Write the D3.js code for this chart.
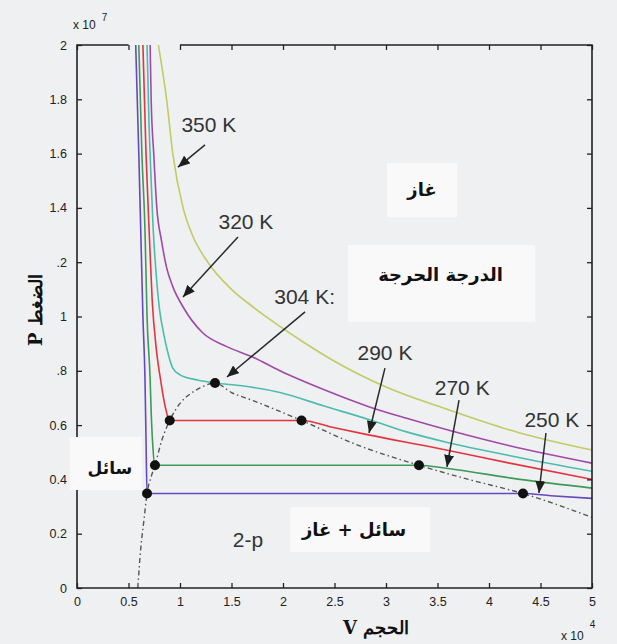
<!DOCTYPE html>
<html><head><meta charset="utf-8">
<script src="https://cdn.jsdelivr.net/npm/d3@7"></script>
<style>body{margin:0;background:#eef0f2}svg{display:block}</style>
</head><body><svg id="c" width="617" height="644"></svg>
<script>
// ---- data ----
const xTicks=[0,0.5,1,1.5,2,2.5,3,3.5,4,4.5,5];
const xTickLabels=["0","0.5","1","1.5","2","2.5","3","3.5","4","4.5","5"];
const yTicks=[0,0.2,0.4,0.6,0.8,1.0,1.2,1.4,1.6,1.8,2.0];
const yTickLabels=["0","0.2","0.4","0.6",".8","1",".2","1.4","1.6","1.8","2"];

const V350=[0.79,0.87,0.93,1.03,1.12,1.27,1.5,1.71,1.87,2.2,2.5,3.0,3.62,4.3,5.0];
const P350=[2.0,1.8,1.6,1.4,1.3,1.2,1.10,1.035,0.99,0.905,0.835,0.74,0.655,0.571,0.508];
const V320=[0.71,0.72,0.745,0.775,0.82,0.87,0.93,1.03,1.22,1.45,1.71,1.97,2.4,2.84,3.2,3.62,4.2,5.0];
const P320=[2.0,1.8,1.6,1.4,1.28,1.18,1.11,1.035,0.94,0.89,0.85,0.80,0.73,0.667,0.625,0.58,0.524,0.46];
const V304=[0.68,0.70,0.72,0.74,0.77,0.80,0.84,0.88,0.93,1.0,1.17,1.34,1.6,1.97,2.4,2.84,3.2,3.62,4.3,5.0];
const P304=[2.0,1.7,1.5,1.32,1.15,1.03,0.94,0.87,0.81,0.785,0.766,0.755,0.745,0.72,0.67,0.62,0.575,0.534,0.48,0.43];
const V290=[0.64,0.67,0.70,0.73,0.77,0.81,0.85,0.90,2.18,2.5,2.83,3.5,4.2,5.0];
const P290=[2.0,1.6,1.32,1.06,0.88,0.77,0.68,0.617,0.617,0.59,0.564,0.515,0.46,0.40];
const V270=[0.60,0.63,0.66,0.68,0.71,0.72,0.735,0.757,3.32,3.6,4.3,5.0];
const P270=[2.0,1.6,1.32,1.0,0.77,0.65,0.53,0.452,0.452,0.44,0.40,0.368];
const V250=[0.57,0.60,0.62,0.64,0.66,0.67,0.68,4.33,4.6,5.0];
const P250=[2.0,1.6,1.3,1.0,0.77,0.55,0.348,0.348,0.34,0.33];

const coexV=[0.59,0.62,0.65,0.68,0.72,0.757,0.82,0.90,1.0,1.1,1.2,1.34,1.5,1.71,2.18,2.7,3.32,3.8,4.33,5.0];
const coexP=[0.0,0.15,0.25,0.348,0.41,0.452,0.54,0.617,0.68,0.715,0.738,0.755,0.72,0.69,0.617,0.53,0.452,0.40,0.348,0.26];

const dotV=[0.68,0.757,0.90,1.34,2.18,3.32,4.33];
const dotP=[0.348,0.452,0.617,0.755,0.617,0.452,0.348];

const tempLabels=["350 K","320 K","304 K:","290 K","270 K","250 K"];
const labelV=[1.28,1.64,2.21,2.99,3.74,4.61];
const labelP=[1.705,1.348,1.072,0.866,0.737,0.619];
const arrowFromV=[1.243,1.563,2.214,2.99,3.709,4.553];
const arrowFromP=[1.632,1.293,1.017,0.81,0.692,0.571];
const arrowToV=[0.98,1.029,1.456,2.835,3.592,4.485];
const arrowToP=[1.55,1.072,0.777,0.571,0.446,0.35];

const regionText=["غاز","الدرجة الحرجة","سائل + غاز","سائل"];
const regionV=[3.35,3.53,2.69,0.32];
const regionP=[1.466,1.153,0.214,0.442];
const boxV0=[3.01,2.63,2.07,-0.07], boxV1=[3.69,4.45,3.43,0.63];
const boxP0=[1.565,1.263,0.298,0.556], boxP1=[1.366,0.98,0.133,0.361];

// ---- chart ----
const svg=d3.select("#c");
const x=d3.scaleLinear().domain([0,5]).range([77,592]);
const y=d3.scaleLinear().domain([0,2]).range([588,45]);

const series=[
 {V:V350,P:P350,c:"#c2cb64"},
 {V:V320,P:P320,c:"#a04aa8"},
 {V:V304,P:P304,c:"#4cbcae"},
 {V:V290,P:P290,c:"#e4343f"},
 {V:V270,P:P270,c:"#3e9a58"},
 {V:V250,P:P250,c:"#6648bf"}
];

const defs=svg.append("defs");
defs.append("clipPath").attr("id","pa").append("rect")
 .attr("x",x(0)).attr("y",y(2)).attr("width",x(5)-x(0)).attr("height",y(0)-y(2));
defs.append("marker").attr("id","ah").attr("markerUnits","userSpaceOnUse")
 .attr("markerWidth",13).attr("markerHeight",10).attr("refX",12).attr("refY",5).attr("orient","auto")
 .append("path").attr("d","M0,0L12,5L0,10Z").attr("fill","#1e1e1e");

const line=d3.line().x(d=>x(d[0])).y(d=>y(d[1])).curve(d3.curveMonotoneX);
const g=svg.append("g").attr("clip-path","url(#pa)");

g.append("path").datum(coexV.map((v,i)=>[v,coexP[i]])).attr("d",line)
 .attr("fill","none").attr("stroke","#555").attr("stroke-width",1.4).attr("stroke-dasharray","5,3,1.5,3");

series.forEach(s=>{
 g.append("path").datum(s.V.map((v,i)=>[v,s.P[i]])).attr("d",line)
  .attr("fill","none").attr("stroke",s.c).attr("stroke-width",1.6);
});

g.selectAll("circle.d").data(dotV.map((v,i)=>[v,dotP[i]])).enter().append("circle")
 .attr("cx",d=>x(d[0])).attr("cy",d=>y(d[1])).attr("r",5).attr("fill","#111");

// axes
const fontT="'Liberation Sans', Arial, sans-serif";
const ax=svg.append("g").attr("class","axes");
ax.append("g").attr("transform",`translate(${x(0)},0)`)
 .call(d3.axisLeft(y).tickValues(yTicks).tickFormat((d,i)=>yTickLabels[i]).tickSizeInner(-5).tickSizeOuter(0).tickPadding(10));
ax.append("g").attr("transform",`translate(0,${y(0)})`)
 .call(d3.axisBottom(x).tickValues(xTicks).tickFormat((d,i)=>xTickLabels[i]).tickSizeInner(-5).tickSizeOuter(0).tickPadding(9));
ax.append("g").attr("transform",`translate(${x(5)},0)`)
 .call(d3.axisRight(y).tickValues(yTicks).tickFormat("").tickSizeInner(-5).tickSizeOuter(0));
ax.append("g").attr("transform",`translate(0,${y(2)})`)
 .call(d3.axisTop(x).tickValues(xTicks).tickFormat("").tickSizeInner(-5).tickSizeOuter(0));
ax.selectAll(".domain").remove();
ax.selectAll(".tick line").attr("stroke","#222").attr("stroke-width",1.3);
ax.selectAll(".tick text").attr("fill","#222").style("font-family",fontT).style("font-size","12.5px");
const frame=[[[1,2],[5,2],[5,0],[0,0],[0,2],[0.5,2]]];
frame.forEach(f=>ax.append("path").attr("d",d3.line().x(d=>x(d[0])).y(d=>y(d[1]))(f))
 .attr("fill","none").attr("stroke","#222").attr("stroke-width",1.6));

// white label boxes
regionText.forEach((t,i)=>{
 svg.append("rect").attr("x",x(boxV0[i])).attr("y",y(boxP0[i]))
  .attr("width",x(boxV1[i])-x(boxV0[i])).attr("height",y(boxP1[i])-y(boxP0[i])).attr("fill","#f9f9fa");
});
regionText.forEach((t,i)=>{
 svg.append("text").attr("x",x(regionV[i])).attr("y",y(regionP[i])).attr("dy","0.35em")
  .attr("text-anchor","middle").attr("direction","rtl").style("direction","rtl")
  .style("font-family","'DejaVu Sans', sans-serif").style("font-weight","bold").style("font-size",i===3?"17px":"18px")
  .attr("fill","#111").text(t);
});
svg.append("text").attr("x",x(1.66)).attr("y",y(0.177)).attr("dy","0.35em").attr("text-anchor","middle")
 .style("font-family",fontT).style("font-size","21px").attr("fill","#333").text("2-p");

tempLabels.forEach((t,i)=>{
 svg.append("text").attr("x",x(labelV[i])).attr("y",y(labelP[i])).attr("dy","0.35em")
  .attr("text-anchor","middle").style("font-family",fontT).style("font-size","21px")
  .attr("fill","#333").text(t);
 svg.append("line").attr("x1",x(arrowFromV[i])).attr("y1",y(arrowFromP[i]))
  .attr("x2",x(arrowToV[i])).attr("y2",y(arrowToP[i]))
  .attr("stroke","#2a2a2a").attr("stroke-width",1.5).attr("marker-end","url(#ah)");
});

svg.append("text").attr("transform","translate(36,310) rotate(-90)").attr("text-anchor","middle")
 .attr("dy","0.35em").attr("direction","rtl").style("direction","rtl")
 .style("font-family","'DejaVu Serif', serif").style("font-weight","bold").style("font-size","18px")
 .attr("fill","#111").text("الضغط P");
svg.append("text").attr("x",376).attr("y",628).attr("text-anchor","middle").attr("dy","0.35em")
 .attr("direction","rtl").style("direction","rtl")
 .style("font-family","'DejaVu Serif', serif").style("font-weight","bold").style("font-size","18px")
 .attr("fill","#111").text("الحجم V");
const e7=svg.append("text").attr("x",73).attr("y",29).style("font-family",fontT).style("font-size","12px").attr("fill","#222");
e7.append("tspan").text("x 10");
e7.append("tspan").attr("dx",6).attr("dy",-8).style("font-size","10px").text("7");
const e4=svg.append("text").attr("x",561).attr("y",640).style("font-family",fontT).style("font-size","12px").attr("fill","#222");
e4.append("tspan").text("x 10");
e4.append("tspan").attr("dx",6).attr("dy",-12).style("font-size","10px").text("4");
</script></body></html>
